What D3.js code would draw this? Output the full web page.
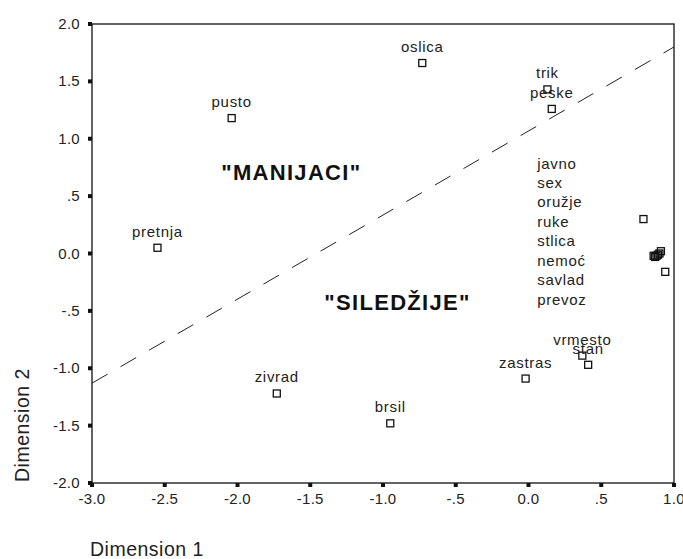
<!DOCTYPE html>
<html><head><meta charset="utf-8">
<script src="https://cdn.jsdelivr.net/npm/d3@7"></script>
<style>
html,body{margin:0;padding:0;background:#fff;}
svg{display:block;font-family:"Liberation Sans",Arial,sans-serif;}
</style></head>
<body><svg id="c" width="683" height="559"></svg>
<script>
// ---- data ----
const labels = ["oslica","trik","peske","pusto","pretnja","zivrad","brsil","zastras","vrmesto","stan"];
const dim1   = [-0.73, 0.13, 0.16, -2.04, -2.55, -1.73, -0.95, -0.02, 0.37, 0.41];
const dim2   = [1.66, 1.43, 1.26, 1.18, 0.05, -1.22, -1.48, -1.09, -0.89, -0.97];
// overlapping points on the right, labels listed in a stack (as in the original)
const stackLabels = ["javno","sex","oružje","ruke","stlica","nemoć","savlad","prevoz"];
const stackDim1   = [0.79, 0.86, 0.87, 0.88, 0.89, 0.90, 0.91, 0.94];
const stackDim2   = [0.30, -0.02, -0.03, -0.02, -0.01, 0.00, 0.02, -0.16];
const xTicks = [-3.0,-2.5,-2.0,-1.5,-1.0,-0.5,0.0,0.5,1.0];
const xTickLabels = ["-3.0","-2.5","-2.0","-1.5","-1.0","-.5","0.0",".5","1.0"];
const yTicks = [2.0,1.5,1.0,0.5,0.0,-0.5,-1.0,-1.5,-2.0];
const yTickLabels = ["2.0","1.5","1.0",".5","0.0","-.5","-1.0","-1.5","-2.0"];
const dividerX = [-3.0, 1.0];
const dividerY = [-1.13, 1.80];
const groupNames = ["\"MANIJACI\"", "\"SILEDŽIJE\""];
const groupX = [-1.63, -0.90];
const groupY = [0.64, -0.49];

// ---- layout ----
const L = 92, R = 674, T = 24, B = 483;
const svg = d3.select("#c");
const x = d3.scaleLinear().domain([-3, 1]).range([L, R]);
const y = d3.scaleLinear().domain([-2, 2]).range([B, T]);
const ink = "#111";

// frame
svg.append("rect").attr("x", L).attr("y", T).attr("width", R - L).attr("height", B - T)
  .attr("fill", "none").attr("stroke", ink).attr("stroke-width", 1.3);

// y axis ticks & labels
const yAxis = svg.append("g");
yAxis.selectAll("rect").data(yTicks).join("rect")
  .attr("x", L - 4).attr("y", d => y(d) - 2).attr("width", 4).attr("height", 4).attr("fill", ink);
yAxis.selectAll("text").data(yTicks).join("text")
  .attr("x", 80).attr("y", d => y(d) + 5).attr("text-anchor", "end")
  .attr("font-size", 15).attr("letter-spacing", 0.3).attr("fill", "#222")
  .text((d, i) => yTickLabels[i]);

// x axis ticks & labels
const xAxis = svg.append("g");
xAxis.selectAll("rect").data(xTicks).join("rect")
  .attr("x", d => x(d) - 2).attr("y", B).attr("width", 4).attr("height", 4).attr("fill", ink);
xAxis.selectAll("text").data(xTicks).join("text")
  .attr("x", d => x(d)).attr("y", 504).attr("text-anchor", "middle")
  .attr("font-size", 15).attr("letter-spacing", 0.3).attr("fill", "#222")
  .text((d, i) => xTickLabels[i]);

// axis titles
svg.append("text").attr("x", 90).attr("y", 556).attr("font-size", 19.5)
  .attr("letter-spacing", 0.5).attr("fill", "#222").text("Dimension 1");
svg.append("text").attr("transform", "translate(29,482) rotate(-90)")
  .attr("font-size", 19.5).attr("letter-spacing", 0.5).attr("fill", "#222").text("Dimension 2");

// dashed divider
svg.append("line")
  .attr("x1", x(dividerX[0])).attr("y1", y(dividerY[0]))
  .attr("x2", x(dividerX[1])).attr("y2", y(dividerY[1]))
  .attr("stroke", "#222").attr("stroke-width", 1).attr("stroke-dasharray", "18,15");

// group annotations
svg.append("g").selectAll("text").data(groupNames).join("text")
  .attr("x", (d, i) => x(groupX[i])).attr("y", (d, i) => y(groupY[i]))
  .attr("text-anchor", "middle").attr("font-size", 22).attr("font-weight", "bold")
  .attr("letter-spacing", 1.3).attr("fill", ink).text(d => d);

// points
const pts = labels.map((l, i) => ({l, a: dim1[i], b: dim2[i]}))
  .concat(stackLabels.map((l, i) => ({l, a: stackDim1[i], b: stackDim2[i]})));
svg.append("g").selectAll("rect").data(pts).join("rect")
  .attr("x", d => x(d.a) - 3.5).attr("y", d => y(d.b) - 3.5)
  .attr("width", 7).attr("height", 7)
  .attr("fill", "none").attr("stroke", ink).attr("stroke-width", 1.3);

// point labels
svg.append("g").selectAll("text").data(labels).join("text")
  .attr("x", (d, i) => x(dim1[i])).attr("y", (d, i) => y(dim2[i]) - 11)
  .attr("text-anchor", "middle").attr("font-size", 15).attr("letter-spacing", 0.7)
  .attr("fill", "#222").text(d => d);

// stacked labels list
svg.append("g").selectAll("text").data(stackLabels).join("text")
  .attr("x", x(0.06)).attr("y", (d, i) => y(0.74) + i * 19.45)
  .attr("font-size", 15).attr("letter-spacing", 0.7).attr("fill", "#222").text(d => d);
</script>
</body></html>
